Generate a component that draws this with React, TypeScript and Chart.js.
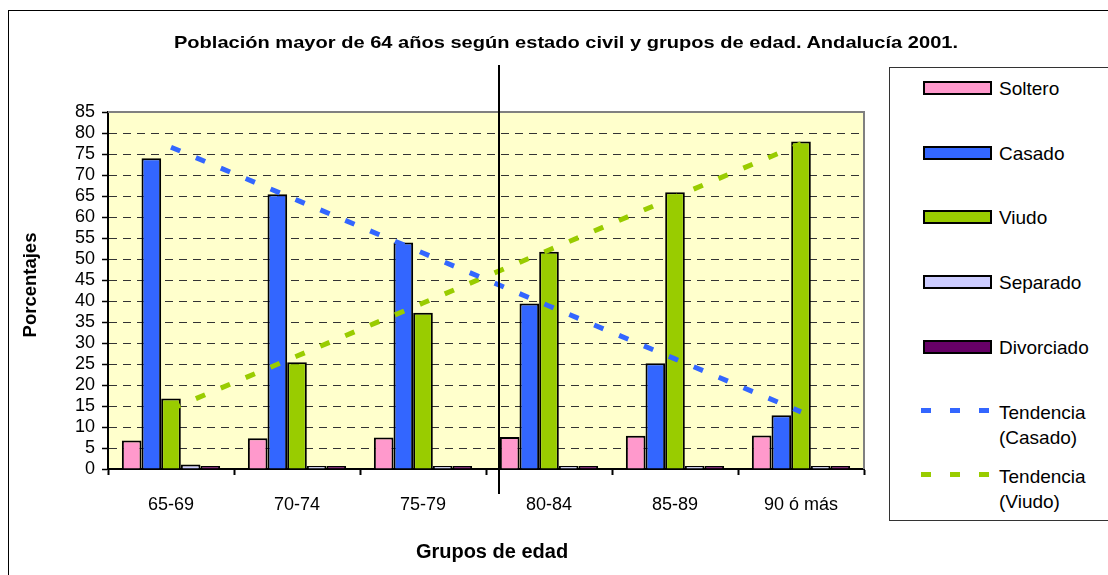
import React, { useEffect, useRef } from 'react';
import { Chart, registerables } from 'chart.js';

Chart.register(...registerables);

const FONT = '"Liberation Sans", Arial, Helvetica, sans-serif';

const categories = ['65-69', '70-74', '75-79', '80-84', '85-89', '90 ó más'];
const soltero = [6.8, 7.3, 7.5, 7.6, 7.9, 8.0];
const casado = [74.0, 65.4, 53.9, 39.4, 25.2, 12.8];
const viudo = [16.8, 25.4, 37.2, 51.7, 65.9, 78.0];
const separado = [1.1, 0.7, 0.4, 0.3, 0.2, 0.1];
const divorciado = [0.5, 0.4, 0.25, 0.2, 0.1, 0.1];

const yMin = 0;
const yMax = 85;
const yStep = 5;

const titleText = 'Población mayor de 64 años según estado civil y grupos de edad. Andalucía 2001.';
const yTitle = 'Porcentajes';
const xTitle = 'Grupos de edad';

const barSeries = [
  { label: 'Soltero', data: soltero, color: '#FF99CC' },
  { label: 'Casado', data: casado, color: '#3366FF' },
  { label: 'Viudo', data: viudo, color: '#99CC00' },
  { label: 'Separado', data: separado, color: '#CCCCFF' },
  { label: 'Divorciado', data: divorciado, color: '#660066' },
];

// Linear least-squares trend of a series (as the original chart's trendlines)
function linearTrend(values: number[]): number[] {
  const n = values.length;
  const xs = values.map((_, i) => i + 1);
  const mx = xs.reduce((a, b) => a + b, 0) / n;
  const my = values.reduce((a, b) => a + b, 0) / n;
  let sxy = 0;
  let sxx = 0;
  for (let i = 0; i < n; i++) {
    sxy += (xs[i] - mx) * (values[i] - my);
    sxx += (xs[i] - mx) * (xs[i] - mx);
  }
  const b = sxy / sxx;
  const a = my - b * mx;
  return xs.map((x) => a + b * x);
}

const trendSeries = [
  { label: 'Tendencia (Casado)', lines: ['Tendencia', '(Casado)'], data: linearTrend(casado), color: '#3366FF' },
  { label: 'Tendencia (Viudo)', lines: ['Tendencia', '(Viudo)'], data: linearTrend(viudo), color: '#99CC00' },
];

const plotDecor = {
  id: 'plotDecor',
  beforeDraw(chart: any) {
    const { ctx, chartArea } = chart;
    const { left, top, right, bottom } = chartArea;
    ctx.save();
    ctx.fillStyle = '#FFFFCC';
    ctx.fillRect(left, top, right - left, bottom - top);
    ctx.restore();
  },
  afterDraw(chart: any) {
    const { ctx, chartArea } = chart;
    const { left, top, right, bottom } = chartArea;
    ctx.save();
    ctx.strokeStyle = '#808080';
    ctx.lineWidth = 2;
    ctx.beginPath();
    ctx.moveTo(left, top);
    ctx.lineTo(right, top);
    ctx.lineTo(right, bottom);
    ctx.stroke();
    ctx.restore();
  },
};

function ChartCanvas() {
  const ref = useRef<HTMLCanvasElement | null>(null);
  useEffect(() => {
    if (!ref.current) return;
    const datasets: any[] = [
      ...barSeries.map((s) => ({
        type: 'bar',
        label: s.label,
        data: s.data,
        backgroundColor: s.color,
        borderColor: '#000000',
        borderWidth: 2,
        minBarLength: 3,
        categoryPercentage: 0.78,
        barPercentage: 1,
        order: 0,
      })),
      ...trendSeries.map((s) => ({
        type: 'line',
        label: s.label,
        data: s.data,
        borderColor: s.color,
        borderWidth: 5,
        borderDash: [10, 17],
        borderCapStyle: 'butt',
        pointRadius: 0,
        fill: false,
        tension: 0,
        order: -1,
      })),
    ];
    const chart = new Chart(ref.current, {
      type: 'bar',
      data: { labels: categories, datasets },
      options: {
        responsive: false,
        animation: false,
        layout: { padding: { left: 8, top: 112, right: 244, bottom: 0 } },
        plugins: {
          legend: { display: false },
          title: { display: false },
          tooltip: { enabled: false },
        },
        scales: {
          x: {
            grid: {
              display: true,
              drawOnChartArea: false,
              drawTicks: true,
              tickLength: 6,
              tickColor: '#000',
              tickWidth: 2,
              offset: true,
            },
            border: { display: true, color: '#000', width: 2 },
            ticks: { color: '#000', font: { family: FONT, size: 18 }, padding: 19, maxRotation: 0 },
            afterFit(scale: any) {
              scale.height = 106;
            },
          },
          y: {
            min: yMin,
            max: yMax,
            ticks: {
              stepSize: yStep,
              autoSkip: false,
              color: '#000',
              font: { family: FONT, size: 18, lineHeight: 1 },
              padding: 7,
            },
            grid: {
              color: (c: any) => (c.tick && (c.tick.value === yMin || c.tick.value === yMax) ? 'rgba(0,0,0,0)' : '#333'),
              lineWidth: 1,
              drawTicks: true,
              tickLength: 6,
              tickColor: '#000',
              tickWidth: 1.5,
              tickBorderDash: [],
            },
            border: { display: true, color: '#000', width: 2, dash: [8, 6] },
            afterFit(scale: any) {
              scale.width = 100;
            },
          },
        },
      } as any,
      plugins: [plotDecor],
    });
    return () => chart.destroy();
  }, []);
  return <canvas ref={ref} width={1108} height={575} style={{ position: 'absolute', left: 0, top: 0, width: 1108, height: 575 }} />;
}

function Legend() {
  const items: React.ReactNode[] = [];
  const barCenters = [88, 153, 217, 282, 347];
  barSeries.forEach((s, i) => {
    const cy = barCenters[i];
    items.push(
      <div key={'sw' + i} style={{ position: 'absolute', left: 922 - 889, top: cy - 8 - 67, width: 69, height: 14, boxSizing: 'border-box', border: '2px solid #000', background: s.color }} />
    );
    items.push(
      <div key={'tx' + i} style={{ position: 'absolute', left: 998 - 889, top: cy - 10 - 67, fontSize: 19, lineHeight: '20px', whiteSpace: 'nowrap' }}>{s.label}</div>
    );
  });
  const trendTops = [412, 476];
  trendSeries.forEach((s, i) => {
    const cy = trendTops[i];
    [0, 29, 58].forEach((dx, j) => {
      items.push(
        <div key={'d' + i + '-' + j} style={{ position: 'absolute', left: 920 + dx - 889, top: cy - 5 - 67, width: 10, height: 5, background: s.color }} />
      );
    });
    s.lines.forEach((ln, j) => {
      items.push(
        <div key={'t' + i + '-' + j} style={{ position: 'absolute', left: 998 - 889, top: cy + j * 25 - 10 - 67, fontSize: 19, lineHeight: '20px', whiteSpace: 'nowrap' }}>{ln}</div>
      );
    });
  });
  return (
    <div style={{ position: 'absolute', left: 889, top: 67, width: 300, height: 454, boxSizing: 'border-box', border: '1px solid #333', background: '#fff', fontFamily: FONT, color: '#000' }}>
      {items}
    </div>
  );
}

export default function App() {
  return (
    <div style={{ position: 'absolute', left: 0, top: 0, width: 1108, height: 575, overflow: 'hidden', background: '#fff', fontFamily: FONT }}>
      <div style={{ position: 'absolute', left: 8, top: 10, width: 1200, height: 700, borderLeft: '1px solid #000', borderTop: '1px solid #000' }} />
      <ChartCanvas />
      <div style={{ position: 'absolute', left: 0, top: 43 - 9, width: 1132, textAlign: 'center', fontWeight: 'bold', fontSize: 17, lineHeight: '18px', whiteSpace: 'nowrap', color: '#000', transform: 'scaleX(1.18)', transformOrigin: '566px 9px' }}>{titleText}</div>
      <div style={{ position: 'absolute', left: 30 - 60, top: 285 - 10, width: 120, height: 20, textAlign: 'center', fontWeight: 'bold', fontSize: 18.5, lineHeight: '20px', transform: 'rotate(-90deg)', whiteSpace: 'nowrap', color: '#000' }}>{yTitle}</div>
      <div style={{ position: 'absolute', left: 492 - 150, top: 551 - 10, width: 300, textAlign: 'center', fontWeight: 'bold', fontSize: 20, lineHeight: '20px', whiteSpace: 'nowrap', color: '#000' }}>{xTitle}</div>
      <div style={{ position: 'absolute', left: 498, top: 65, width: 2, height: 429, background: '#000' }} />
      <Legend />
    </div>
  );
}
